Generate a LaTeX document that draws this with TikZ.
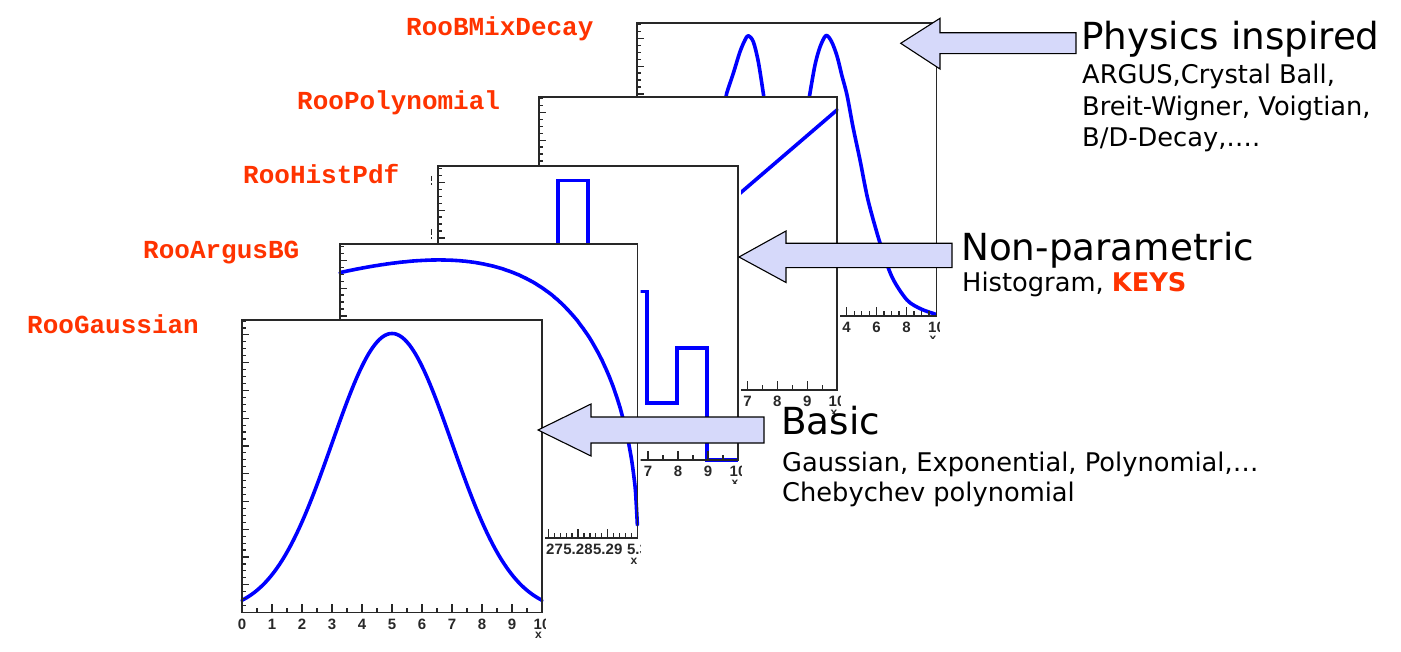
\documentclass[tikz,border=0pt]{standalone}
\usepackage{fontspec}
\setmainfont{DejaVu Sans}
\newfontfamily\rooFont{Liberation Mono}
\newfontfamily\axisFont{Liberation Sans}
\definecolor{rooRed}{RGB}{255,51,0}
\definecolor{arrowFill}{RGB}{214,217,250}
\definecolor{frameGray}{RGB}{40,40,40}
\tikzset{
  frame/.style={draw=frameGray, line width=1.2pt},
  curve/.style={draw=blue, line width=3.6pt, line join=round, line cap=round},
  ticklbl/.style={font=\axisFont\bfseries\fontsize{15}{15}\selectfont, inner sep=0pt, text=frameGray},
  xlbl/.style={font=\axisFont\bfseries\fontsize{12}{12}\selectfont, inner sep=0pt, text=frameGray, anchor=north},
  roolbl/.style={font=\rooFont\bfseries\fontsize{26}{26}\selectfont, text=rooRed, anchor=base west, inner sep=0pt},
  headtxt/.style={font=\fontsize{37.3}{40}\selectfont, anchor=base west, inner sep=0pt},
  subtxt/.style={font=\fontsize{25.7}{28}\selectfont, anchor=base west, inner sep=0pt},
  blockarrow/.style={fill=arrowFill, draw=black, line width=1.1pt, line join=miter},
  canvas/.style={fill=white, draw=none}
}
% y ticks: #1 = left x, #2 = bottom y
\newcommand{\myYticks}[2]{%
  \foreach \j in {1,...,42}{%
    \pgfmathsetmacro\tl{ifthenelse(mod(\j,4)==0,7,4)}%
    \draw[frame] (#1,{#2-6.94*\j}) -- ++(\tl,0);
  }}
% x ticks: #1 left x, #2 bottom y, #3 spacing, #4 count, #5 subdivisions
\newcommand{\myXticks}[5]{%
  \foreach \j in {0,...,#4}{%
    \pgfmathsetmacro\tl{ifthenelse(mod(\j,#5)==0,9,5)}%
    \draw[frame] ({#1+#3*\j},#2) -- ++(0,-\tl);
  }}
\begin{document}
\begin{tikzpicture}[x=1pt,y=-1pt]
\useasboundingbox (0,0) rectangle (1401,652);

% ---------------- RooBMixDecay (back) ----------------
\begin{scope}
  \clip (625,23) rectangle (939.5,339);
  \fill[canvas] (625,23) rectangle (939.5,339);
  \draw[curve] plot[smooth, tension=0.5] coordinates {(726,100) (726.7,93.3) (733.3,73.3) (740,51.7) (745,40) (748.3,35.7) (753.3,41.7) (758.3,61.7) (763.3,93.3) (764,100)};
  \draw[curve] plot[smooth, tension=0.5] coordinates {(809,100) (810,93) (815,65) (820,47) (826,35.5) (831.5,41.5) (837,56) (842,76) (847,95) (853,127) (860,160) (868,200) (880,243) (892,277) (907,300) (921,309) (935,314)};
  \draw[frame] (637,23) rectangle (936.5,316);
  \myYticks{637}{316}
  \myXticks{637}{316}{7.4875}{40}{4}
  \foreach \v in {-10,-8,...,10}
    \node[ticklbl] (bmixlbl\v) at ({637+14.975*(\v+10)},327.5) {\v};
  \node[xlbl] (bmixx) at (933,336) {x};
\end{scope}

% ---------------- RooPolynomial ----------------
\begin{scope}
  \clip (527,97) rectangle (840,413);
  \fill[canvas] (527,97) rectangle (840,413);
  \draw[curve] (540,365) -- (837,110);
  \draw[frame] (539,97) rectangle (837,390);
  \myYticks{539}{390}
  \myXticks{539}{390}{14.9}{20}{2}
  \foreach \v in {0,...,10}
    \node[ticklbl] (polylbl\v) at ({539+29.8*\v},401.5) {\v};
  \node[xlbl] (polyx) at (834,410) {x};
\end{scope}

% ---------------- RooHistPdf ----------------
\begin{scope}
  \clip (429,166) rectangle (741,483);
  \fill[canvas] (429,166) rectangle (741,483);
  \draw[curve, line cap=butt, line join=miter] (438,460) -- (438,420) -- (468,420) -- (468,380) -- (498,380) -- (498,330)
    -- (528,330) -- (528,270) -- (558,270) -- (558,180.7) -- (588,180.7) -- (588,250) -- (618,250) -- (618,291.7)
    -- (646.7,291.7) -- (646.7,403) -- (677,403) -- (677,348) -- (707,348) -- (707,460) -- (738,460);
  \draw[frame] (438,166) rectangle (738,460);
  \myYticks{438}{460}
  \myXticks{438}{460}{15}{20}{2}
  \foreach \v in {0,...,10}
    \node[ticklbl] (histlbl\v) at ({438+30*\v},471.5) {\v};
  \node[xlbl] (histx) at (735,480) {x};
  % clipped y-axis label fragments
  \draw[frame] (431.5,176) -- (431.5,181) (431.5,183) -- (431.5,185.5);
  \draw[frame] (431.5,229) -- (431.5,235) (431.5,237) -- (431.5,239.5);
\end{scope}

% ---------------- RooArgusBG ----------------
\begin{scope}
  \clip (328,244) rectangle (640.5,563);
  \fill[canvas] (328,244) rectangle (640.5,563);
  \draw[curve] plot[domain=0:1, samples=160, smooth] ({340+297.5*\x},
     {538-2899*sqrt(0.1*(1-\x)*(10.5+0.1*\x)/28.09)*exp(-20*0.1*(1-\x)*(10.5+0.1*\x)/28.09)});
  \draw[frame] (340,244) rectangle (637.5,538);
  \myYticks{340}{538}
  \myXticks{340}{538}{5.95}{50}{5}
  \foreach \k/\lab in {0/5.2,1/5.21,2/5.22,3/5.23,4/5.24,5/5.25,6/5.26,7/5.27,8/5.28,9/5.29,10/5.3}
    \node[ticklbl] (arguslbl\k) at ({340+29.75*\k},549.5) {\lab};
  \node[xlbl] (argusx) at (634,558) {x};
\end{scope}

% ---------------- RooGaussian (front) ----------------
\begin{scope}
  \clip (230,320) rectangle (545,652);
  \fill[canvas] (230,320) rectangle (545,652);
  \draw[curve] plot[domain=0:10, samples=121, smooth] ({242+30*\x},{612.5-279*exp(-(\x-5)*(\x-5)/8)});
  \draw[frame] (242,320) rectangle (542,612.5);
  \myYticks{242}{612.5}
  \myXticks{242}{612.5}{15}{20}{2}
  \foreach \v in {0,...,10}
    \node[ticklbl] (gauslbl\v) at ({242+30*\v},624) {\v};
  \node[xlbl] (gausx) at (538.5,632) {x};
\end{scope}

% ---------------- block arrows ----------------
\coordinate (tipA) at (900.7,43.3);
\coordinate (tipB) at (739,257);
\coordinate (tipC) at (538,430);
\draw[blockarrow] (tipA) -- (940,18.3) -- (940,32.8) -- (1076,32.8) -- (1076,53.6) -- (940,53.6) -- (940,69) -- cycle;
\draw[blockarrow] (tipB) -- (786,231) -- (786,243.3) -- (952,243.3) -- (952,267.7) -- (786,267.7) -- (786,282.5) -- cycle;
\draw[blockarrow] (tipC) -- (591,404) -- (591,417) -- (764,417) -- (764,443) -- (591,443) -- (591,456) -- cycle;

% ---------------- Roo labels ----------------
\node[roolbl] (lblBMix) at (406,35.5) {RooBMixDecay};
\node[roolbl] (lblPoly) at (297,110) {RooPolynomial};
\node[roolbl] (lblHist) at (243,184) {RooHistPdf};
\node[roolbl] (lblArgus) at (143,259) {RooArgusBG};
\node[roolbl] (lblGaus) at (27,334) {RooGaussian};

% ---------------- descriptions ----------------
\node[headtxt] (hPhys) at (1081,49.3) {Physics inspired};
\node[subtxt] (sPhys1) at (1082,83.3) {ARGUS,Crystal Ball,};
\node[subtxt] (sPhys2) at (1082,115.5) {Breit-Wigner, Voigtian,};
\node[subtxt] (sPhys3) at (1082,146.7) {B/D-Decay,….};
\node[headtxt] (hNonp) at (961,260.7) {Non-parametric};
\node[subtxt] (sNonp) at (962,291.7) {Histogram, {\bfseries\color{rooRed}KEYS}};
\node[headtxt] (hBasic) at (781,435) {Basic};
\node[subtxt] (sBasic1) at (782,471) {Gaussian, Exponential, Polynomial,…};
\node[subtxt] (sBasic2) at (782,501) {Chebychev polynomial};
\end{tikzpicture}
\end{document}
